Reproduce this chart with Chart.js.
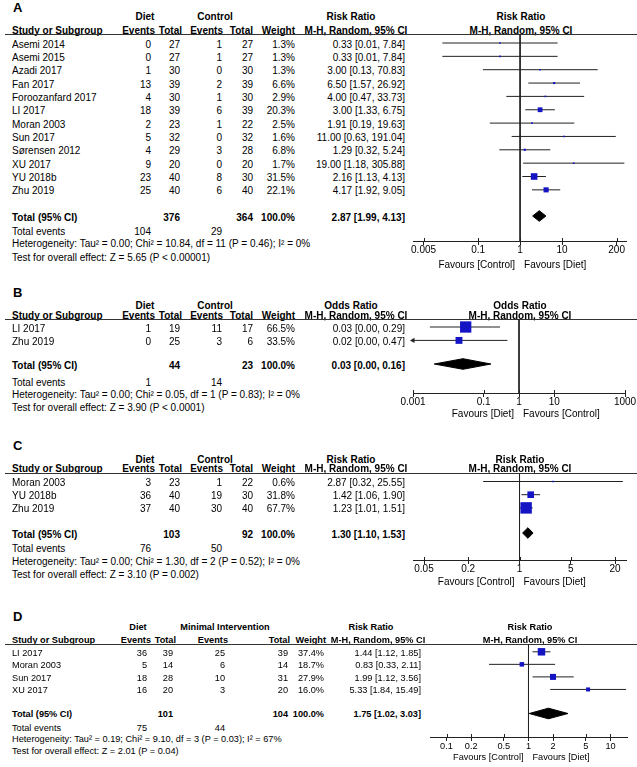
<!DOCTYPE html>
<html>
<head>
<meta charset="utf-8">
<script src="https://cdn.jsdelivr.net/npm/chart.js@4.4.1/dist/chart.umd.min.js"></script>
<style>
  body { margin: 0; background: #fff; }
  #page { position: relative; width: 637px; height: 767px; overflow: hidden;
          font-family: "Liberation Sans", Arial, sans-serif; color: #000; }
  .t { position: absolute; white-space: nowrap; }
  .rule { position: absolute; left: 5px; width: 632px; height: 1px; background: #333; }
  canvas { position: absolute; }
</style>
</head>
<body>
<div id="page"></div>
<script>
// ---- Panel A: diet vs control, risk ratio ----
const studiesA = ['Asemi 2014', 'Asemi 2015', 'Azadi 2017', 'Fan 2017', 'Foroozanfard 2017', 'LI 2017',
                  'Moran 2003', 'Sun 2017', 'Sørensen 2012', 'XU 2017', 'YU 2018b', 'Zhu 2019'];
const dietEventsA = [0, 0, 1, 13, 4, 18, 2, 5, 4, 9, 23, 25];
const dietTotalA = [27, 27, 30, 39, 30, 39, 23, 32, 29, 20, 40, 40];
const ctrlEventsA = [1, 1, 0, 2, 1, 6, 1, 0, 3, 0, 8, 6];
const ctrlTotalA = [27, 27, 30, 39, 30, 39, 22, 32, 28, 20, 30, 40];
const weightA = [1.3, 1.3, 1.3, 6.6, 2.9, 20.3, 2.5, 1.6, 6.8, 1.7, 31.5, 22.1];
const ratioA = [0.33, 0.33, 3.00, 6.50, 4.00, 3.00, 1.91, 11.00, 1.29, 19.00, 2.16, 4.17];
const lowerA = [0.014, 0.014, 0.13, 1.57, 0.47, 1.33, 0.19, 0.63, 0.32, 1.18, 1.13, 1.92];
const upperA = [7.84, 7.84, 70.83, 26.92, 33.73, 6.75, 19.63, 191.04, 5.24, 305.88, 4.13, 9.05];
const pooledA = [2.87, 1.99, 4.13];
const totalsA = [376, 364];
const eventsA = [104, 29];
const ticksA = [0.005, 0.1, 1, 10, 200];
const rangeA = [0.0028, 335];
const hetA = 'Heterogeneity: Tau² = 0.00; Chi² = 10.84, df = 11 (P = 0.46); I² = 0%';
const testA = 'Test for overall effect: Z = 5.65 (P < 0.00001)';

// ---- Panel B: odds ratio ----
const studiesB = ['LI 2017', 'Zhu 2019'];
const dietEventsB = [1, 0];
const dietTotalB = [19, 25];
const ctrlEventsB = [11, 3];
const ctrlTotalB = [17, 6];
const weightB = [66.5, 33.5];
const ratioB = [0.031, 0.02];
const lowerB = [0.003, 0.0003];
const upperB = [0.29, 0.47];
const pooledB = [0.026, 0.004, 0.16];
const totalsB = [44, 23];
const eventsB = [1, 14];
const ticksB = [0.001, 0.1, 1, 10, 1000];
const rangeB = [0.001, 1000];
const hetB = 'Heterogeneity: Tau² = 0.00; Chi² = 0.05, df = 1 (P = 0.83); I² = 0%';
const testB = 'Test for overall effect: Z = 3.90 (P < 0.0001)';

// ---- Panel C ----
const studiesC = ['Moran 2003', 'YU 2018b', 'Zhu 2019'];
const dietEventsC = [3, 36, 37];
const dietTotalC = [23, 40, 40];
const ctrlEventsC = [1, 19, 30];
const ctrlTotalC = [22, 30, 40];
const weightC = [0.6, 31.8, 67.7];
const ratioC = [2.87, 1.42, 1.23];
const lowerC = [0.32, 1.06, 1.01];
const upperC = [25.55, 1.90, 1.51];
const pooledC = [1.30, 1.10, 1.53];
const totalsC = [103, 92];
const eventsC = [76, 50];
const ticksC = [0.05, 0.2, 1, 5, 20];
const rangeC = [0.0354, 28.2];
const hetC = 'Heterogeneity: Tau² = 0.00; Chi² = 1.30, df = 2 (P = 0.52); I² = 0%';
const testC = 'Test for overall effect: Z = 3.10 (P = 0.002)';

// ---- Panel D: diet vs minimal intervention ----
const studiesD = ['LI 2017', 'Moran 2003', 'Sun 2017', 'XU 2017'];
const dietEventsD = [36, 5, 18, 16];
const dietTotalD = [39, 14, 28, 20];
const ctrlEventsD = [25, 6, 10, 3];
const ctrlTotalD = [39, 14, 31, 20];
const weightD = [37.4, 18.7, 27.9, 16.0];
const ratioD = [1.44, 0.83, 1.99, 5.33];
const lowerD = [1.12, 0.33, 1.12, 1.84];
const upperD = [1.85, 2.11, 3.56, 15.49];
const pooledD = [1.75, 1.02, 3.03];
const totalsD = [101, 104];
const eventsD = [75, 44];
const ticksD = [0.1, 0.2, 0.5, 1, 2, 5, 10];
const rangeD = [0.0629, 15.9];
const hetD = 'Heterogeneity: Tau² = 0.19; Chi² = 9.10, df = 3 (P = 0.03); I² = 67%';
const testD = 'Test for overall effect: Z = 2.01 (P = 0.04)';

// column positions (right edges) for the left-hand table
const colsStd = { hdr: [155, 182, 223, 253, 295], val: [151, 180, 222, 253, 295], ci: 405, grp: [145, 215], meas: [351, 356] };
const colsD = { hdr: [151, 176, 228, 290, 326], val: [147, 173, 225, 288, 324], ci: 421, grp: [138, 225], meas: [371, 378] };

const panels = [
  { letter: 'A', measure: 'Risk Ratio', groups: ['Diet', 'Control'], favours: ['Favours [Control]', 'Favours [Diet]'],
    studies: studiesA, dietEv: dietEventsA, dietTot: dietTotalA, ctrlEv: ctrlEventsA, ctrlTot: ctrlTotalA,
    weight: weightA, ratio: ratioA, lower: lowerA, upper: upperA, pooled: pooledA, totals: totalsA, events: eventsA,
    ticks: ticksA, range: rangeA, het: hetA, test: testA, cols: colsStd,
    lay: { fs: 10, lab: 7, grp: 17, hdr: 30.5, line: 33.5, y0: 44.5, step: 13.35, tot: 217.5, ev: 232, het: 244, test: 257.5,
           axL: 413, axR: 626, axY: 241, fav: 265, plotHdr: 521 } },
  { letter: 'B', measure: 'Odds Ratio', groups: ['Diet', 'Control'], favours: ['Favours [Diet]', 'Favours [Control]'],
    studies: studiesB, dietEv: dietEventsB, dietTot: dietTotalB, ctrlEv: ctrlEventsB, ctrlTot: ctrlTotalB,
    weight: weightB, ratio: ratioB, lower: lowerB, upper: upperB, pooled: pooledB, totals: totalsB, events: eventsB,
    ticks: ticksB, range: rangeB, het: hetB, test: testB, cols: colsStd,
    lay: { fs: 10, lab: 292.5, grp: 306, hdr: 315.5, line: 319, y0: 328.5, step: 13.4, tot: 365.5, ev: 382.5, het: 394.5, test: 408,
           axL: 413, axR: 625, axY: 393, fav: 413.5, plotHdr: 520 } },
  { letter: 'C', measure: 'Risk Ratio', groups: ['Diet', 'Control'], favours: ['Favours [Control]', 'Favours [Diet]'],
    studies: studiesC, dietEv: dietEventsC, dietTot: dietTotalC, ctrlEv: ctrlEventsC, ctrlTot: ctrlTotalC,
    weight: weightC, ratio: ratioC, lower: lowerC, upper: upperC, pooled: pooledC, totals: totalsC, events: eventsC,
    ticks: ticksC, range: rangeC, het: hetC, test: testC, cols: colsStd,
    lay: { fs: 10, lab: 445, grp: 459.5, hdr: 468.5, line: 472.5, y0: 483, step: 13.2, tot: 534.5, ev: 549, het: 562, test: 575,
           axL: 413, axR: 626, axY: 559.5, fav: 582, plotHdr: 520 } },
  { letter: 'D', measure: 'Risk Ratio', groups: ['Diet', 'Minimal Intervention'], favours: ['Favours [Control]', 'Favours [Diet]'],
    studies: studiesD, dietEv: dietEventsD, dietTot: dietTotalD, ctrlEv: ctrlEventsD, ctrlTot: ctrlTotalD,
    weight: weightD, ratio: ratioD, lower: lowerD, upper: upperD, pooled: pooledD, totals: totalsD, events: eventsD,
    ticks: ticksD, range: rangeD, het: hetD, test: testD, cols: colsD,
    lay: { fs: 9.2, lab: 616, grp: 628, hdr: 640.5, line: 644, y0: 653.3, step: 12.55, tot: 715, ev: 728.3, het: 739.5, test: 752,
           axL: 430, axR: 627, axY: 737.3, fav: 758, plotHdr: 530 } }
];

const page = document.getElementById('page');
const ink = '#222';
const blue = '#1414c4';

// Put one piece of text on the page, vertically centred on y
function txt(x, y, s, align, bold, size) {
  const fs = size || 10, lh = fs + 2;
  const d = document.createElement('div');
  d.className = 't';
  d.textContent = String(s);
  d.style.left = x + 'px';
  d.style.top = (y - lh / 2) + 'px';
  d.style.fontSize = fs + 'px';
  d.style.lineHeight = lh + 'px';
  if (bold) d.style.fontWeight = 'bold';
  if (align === 'r') d.style.transform = 'translateX(-100%)';
  if (align === 'c') d.style.transform = 'translateX(-50%)';
  page.appendChild(d);
}

function ciText(e, l, h) {
  return e.toFixed(2) + ' [' + l.toFixed(2) + ', ' + h.toFixed(2) + ']';
}

// box side grows with the study weight
function boxRadius(w) {
  return Math.max(1.6, 0.55 * Math.pow(w, 0.72)) / Math.SQRT2;
}

// RevMan ticks poke a little above the axis line as well
const tickUp = {
  id: 'tickUp',
  afterDraw(chart) {
    const s = chart.scales.x, ctx = chart.ctx;
    ctx.save();
    ctx.strokeStyle = ink;
    ctx.lineWidth = 1;
    ctx.beginPath();
    s.ticks.forEach(t => {
      const x = Math.round(s.getPixelForValue(t.value)) + 0.5;
      ctx.moveTo(x, s.top - 3);
      ctx.lineTo(x, s.top);
    });
    ctx.stroke();
    ctx.restore();
  }
};

function drawTable(p) {
  const L = p.lay, C = p.cols, fs = L.fs;
  txt(13, L.lab, p.letter, 'l', true, 13);
  txt(C.grp[0], L.grp, p.groups[0], 'c', true, fs);
  txt(C.grp[1], L.grp, p.groups[1], 'c', true, fs);
  txt(C.meas[0], L.grp, p.measure, 'c', true, fs);
  txt(L.plotHdr, L.grp, p.measure, 'c', true, fs);
  txt(12, L.hdr, 'Study or Subgroup', 'l', true, fs);
  ['Events', 'Total', 'Events', 'Total', 'Weight'].forEach((h, i) => txt(C.hdr[i], L.hdr, h, 'r', true, fs));
  txt(C.meas[1], L.hdr, 'M-H, Random, 95% CI', 'c', true, fs);
  txt(L.plotHdr, L.hdr, 'M-H, Random, 95% CI', 'c', true, fs);

  const rule = document.createElement('div');
  rule.className = 'rule';
  rule.style.top = Math.round(L.line) + 'px';
  page.appendChild(rule);

  p.studies.forEach((s, i) => {
    const y = L.y0 + i * L.step;
    txt(12, y, s, 'l', false, fs);
    txt(C.val[0], y, p.dietEv[i], 'r', false, fs);
    txt(C.val[1], y, p.dietTot[i], 'r', false, fs);
    txt(C.val[2], y, p.ctrlEv[i], 'r', false, fs);
    txt(C.val[3], y, p.ctrlTot[i], 'r', false, fs);
    txt(C.val[4], y, p.weight[i].toFixed(1) + '%', 'r', false, fs);
    txt(C.ci, y, ciText(p.ratio[i], p.lower[i], p.upper[i]), 'r', false, fs);
  });

  txt(12, L.tot, 'Total (95% CI)', 'l', true, fs);
  txt(C.val[1], L.tot, p.totals[0], 'r', true, fs);
  txt(C.val[3], L.tot, p.totals[1], 'r', true, fs);
  txt(C.val[4], L.tot, '100.0%', 'r', true, fs);
  txt(C.ci, L.tot, ciText(p.pooled[0], p.pooled[1], p.pooled[2]), 'r', true, fs);
  txt(12, L.ev, 'Total events', 'l', false, fs);
  txt(C.val[0], L.ev, p.events[0], 'r', false, fs);
  txt(C.val[2], L.ev, p.events[1], 'r', false, fs);
  txt(12, L.het, p.het, 'l', false, fs);
  txt(12, L.test, p.test, 'l', false, fs);
}

function drawPlot(p) {
  const L = p.lay;
  const padL = 13, padR = 637 - L.axR, axisH = 22;
  const top = Math.round(L.line), axY = Math.round(L.axY);
  const left = L.axL - padL, w = 637 - left, h = axY - top + axisH;

  const cv = document.createElement('canvas');
  cv.width = w;
  cv.height = h;
  cv.style.left = left + 'px';
  cv.style.top = top + 'px';
  cv.style.width = w + 'px';
  cv.style.height = h + 'px';
  page.appendChild(cv);

  const xMin = p.range[0], xMax = p.range[1];
  const py0 = L.y0 - 1.5;                 // marks sit a touch above the text rows
  const yMin = (top - py0) / L.step;
  const yMax = (axY - py0) / L.step;
  const tot = (L.tot - L.y0) / L.step;
  const half = 5.3 / L.step;
  const pe = p.pooled[0], pl = p.pooled[1], ph = p.pooled[2];

  const datasets = [];
  // study boxes
  datasets.push({ data: p.ratio.map((v, i) => ({ x: v, y: i })), showLine: false, pointStyle: 'rect',
                  pointRadius: p.weight.map(boxRadius), pointBackgroundColor: blue, pointBorderWidth: 0 });
  // arrows for intervals running off the axis
  const arrows = [];
  p.lower.forEach((v, i) => { if (v < xMin) arrows.push({ x: xMin, y: i }); });
  datasets.push({ data: arrows, showLine: false, pointStyle: 'triangle', pointRotation: -90, pointRadius: 3,
                  pointBackgroundColor: ink, pointBorderWidth: 0, clip: false });
  // pooled diamond
  datasets.push({ data: [{ x: pl, y: tot }, { x: pe, y: tot - half }, { x: ph, y: tot }, { x: pe, y: tot + half }, { x: pl, y: tot }],
                  fill: 'shape', backgroundColor: '#000', borderColor: '#000', borderWidth: 1, pointRadius: 0 });
  // confidence intervals
  p.ratio.forEach((v, i) => {
    datasets.push({ data: [{ x: Math.max(p.lower[i], xMin), y: i }, { x: Math.min(p.upper[i], xMax), y: i }],
                    borderColor: ink, borderWidth: 1, pointRadius: 0 });
  });
  // line of no effect
  datasets.push({ data: [{ x: 1, y: yMin }, { x: 1, y: yMax }], borderColor: ink, borderWidth: 1, pointRadius: 0 });

  new Chart(cv, {
    type: 'line',
    data: { datasets: datasets },
    plugins: [tickUp],
    options: {
      responsive: false,
      animation: false,
      events: [],
      layout: { autoPadding: false, padding: { left: padL, right: padR, top: 0, bottom: 0 } },
      plugins: { legend: { display: false }, tooltip: { enabled: false } },
      scales: {
        x: {
          type: 'logarithmic', min: xMin, max: xMax,
          afterBuildTicks: s => { s.ticks = p.ticks.map(v => ({ value: v })); },
          afterFit: s => { s.paddingLeft = 0; s.paddingRight = 0; s.height = axisH; },
          border: { display: true, color: ink, width: 1 },
          grid: { drawOnChartArea: false, drawTicks: true, tickLength: 4, color: ink },
          ticks: { autoSkip: false, maxRotation: 0, padding: 0.5, color: '#000',
                   font: { family: 'Liberation Sans', size: L.fs, lineHeight: 1 },
                   callback: v => String(v) }
        },
        y: { type: 'linear', display: false, reverse: true, min: yMin, max: yMax }
      }
    }
  });

  // favours labels either side of the line of no effect
  const one = L.axL + (L.axR - L.axL) * (-Math.log10(xMin)) / (Math.log10(xMax) - Math.log10(xMin));
  txt(one - 5, L.fav, p.favours[0], 'r', false, L.fs);
  txt(one + 4, L.fav, p.favours[1], 'l', false, L.fs);
}

panels.forEach(p => { drawTable(p); drawPlot(p); });
</script>
</body>
</html>
